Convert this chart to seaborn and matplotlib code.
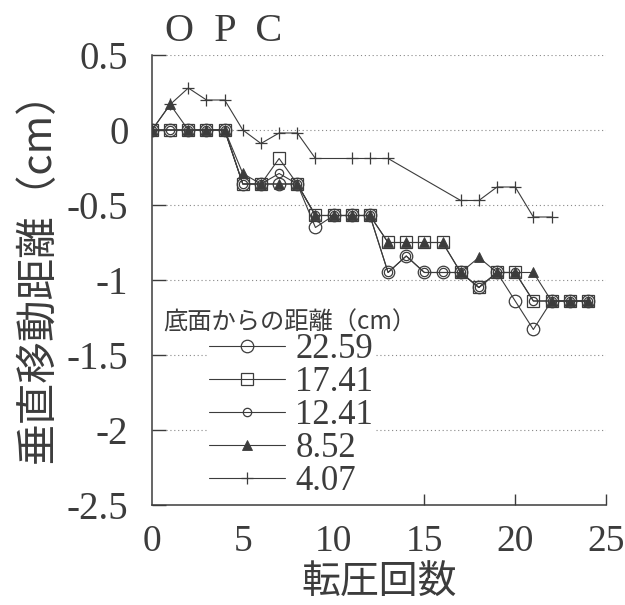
import matplotlib
matplotlib.use("Agg")
import matplotlib.pyplot as plt
import pandas as pd
import seaborn as sns

# 転圧回数 (passes) and vertical displacement (cm)
passes = list(range(0, 25))
d_22_59 = [0, 0, 0, 0, 0, -0.36, -0.36, -0.36, -0.36, -0.65, -0.57, -0.57, -0.57,
           -0.95, -0.84, -0.95, -0.95, -0.95, -1.05, -0.95, -1.14, -1.33, -1.14, -1.14, -1.14]
d_17_41 = [0, 0, 0, 0, 0, -0.36, -0.36, -0.19, -0.36, -0.57, -0.57, -0.57, -0.57,
           -0.75, -0.75, -0.75, -0.75, -0.95, -1.05, -0.95, -0.95, -1.14, -1.14, -1.14, -1.14]
d_12_41 = [0, 0, 0, 0, 0, -0.36, -0.36, -0.29, -0.36, -0.57, -0.57, -0.57, -0.57,
           -0.95, -0.84, -0.95, -0.95, -0.95, -1.05, -0.95, -0.95, -1.14, -1.14, -1.14, -1.14]
d_8_52 = [0, 0.17, 0, 0, 0, -0.29, -0.36, -0.36, -0.36, -0.57, -0.57, -0.57, -0.57,
          -0.75, -0.75, -0.75, -0.75, -0.95, -0.85, -0.95, -0.95, -0.95, -1.14, -1.14, -1.14]
passes_4_07 = [0, 1, 2, 3, 4, 5, 6, 7, 8, 9, 11, 12, 13, 17, 18, 19, 20, 21, 22]
d_4_07 = [0, 0.17, 0.28, 0.2, 0.2, 0, -0.09, -0.02, -0.02, -0.19, -0.19, -0.19, -0.19,
          -0.47, -0.47, -0.38, -0.38, -0.58, -0.58]

labels = ["22.59", "17.41", "12.41", "8.52", "4.07"]
yticks = [0.5, 0, -0.5, -1, -1.5, -2, -2.5]
ytick_labels = ["0.5", "0", "-0.5", "-1", "-1.5", "-2", "-2.5"]

sns.set_style("ticks")
plt.rcParams["font.family"] = ["Liberation Serif", "Noto Sans CJK JP"]
plt.rcParams["axes.unicode_minus"] = False
ink = "#3c3c3c"
cjk = ["Noto Sans CJK JP", "DejaVu Sans"]

fig = plt.figure(figsize=(6.25, 6.05), dpi=100)
ax = fig.add_axes([0.2432, 0.1653, 0.7264, 0.7438])

styles = [
    dict(marker="o", ms=9, mfc="none", mew=0.9),
    dict(marker="s", ms=9, mfc="none", mew=0.9),
    dict(marker="o", ms=6, mfc="none", mew=0.9),
    dict(marker="^", ms=7, mfc=ink, mew=0.6),
    dict(marker="+", ms=9, mew=0.9),
]
series = [(passes, d_22_59), (passes, d_17_41), (passes, d_12_41), (passes, d_8_52),
          (passes_4_07, d_4_07)]

for (xs, ys), lab, st in zip(series, labels, styles):
    df = pd.DataFrame({"x": xs, "y": ys})
    sns.lineplot(data=df, x="x", y="y", ax=ax, color=ink, lw=0.8, mec=ink,
                 label=lab, zorder=3, **st)

ax.set_xlim(0, 25)
ax.set_ylim(-2.5, 0.5)
ax.set_xticks(range(0, 26, 5))
ax.set_yticks(yticks)
ax.set_yticklabels(ytick_labels)
for t in ax.xaxis.get_major_ticks()[:3]:
    t.tick1line.set_visible(False)

for y in yticks[:-1]:
    ax.axhline(y, xmin=0.03, color="#888888", lw=0.8, ls=(0, (1, 2.5)), zorder=1)

sns.despine(ax=ax)
for s in ["left", "bottom"]:
    ax.spines[s].set_color(ink)
    ax.spines[s].set_linewidth(1.1)
ax.tick_params(axis="both", direction="in", colors=ink, width=1.0)
ax.tick_params(axis="y", length=10, pad=17, labelsize=28)
ax.tick_params(axis="x", length=8, pad=14, labelsize=27)

ax.set_xlabel("転圧回数", family=cjk, fontsize=28, color=ink)
ax.set_ylabel("垂直移動距離（cm）", family=cjk, fontsize=30, color=ink)
ax.xaxis.set_label_coords(0.50, -0.128)
ax.yaxis.set_label_coords(-0.205, 0.53)

ax.text(0.028, 1.03, "O  P  C", transform=ax.transAxes, fontsize=29, color=ink,
        va="baseline", ha="left", family="Liberation Serif")

leg = ax.legend(loc="upper left", bbox_to_anchor=(0.121, 0.385), fontsize=25,
                frameon=True, facecolor="white", edgecolor="none", framealpha=1,
                borderpad=0.05, labelspacing=0.0, handlelength=2.2,
                handletextpad=0.3, borderaxespad=0)
for t in leg.get_texts():
    t.set_color(ink)
ax.text(0.024, 0.405, "底面からの距離（cm）", transform=ax.transAxes, family=cjk,
        fontsize=17.5, color=ink, va="center", ha="left", zorder=6)

fig.savefig("out.png", dpi=100)
